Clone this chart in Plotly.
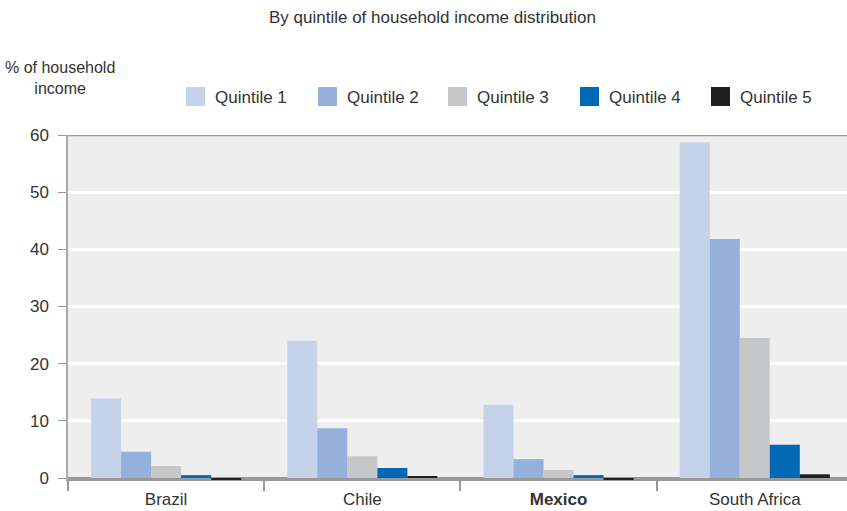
import plotly.graph_objects as go

# Share of household income by quintile (%), per country
countries = ["Brazil", "Chile", "Mexico", "South Africa"]
country_labels = ["Brazil", "Chile", "<b>Mexico</b>", "South Africa"]
quintiles = ["Quintile 1", "Quintile 2", "Quintile 3", "Quintile 4", "Quintile 5"]
q1 = [13.9, 24.0, 12.8, 58.7]
q2 = [4.6, 8.7, 3.3, 41.8]
q3 = [2.1, 3.8, 1.4, 24.5]
q4 = [0.5, 1.75, 0.5, 5.8]
q5 = [-0.4, 0.35, -0.4, 0.65]
colors = ["#c5d3ea", "#95b0db", "#c6c7c8", "#0068b4", "#231f20"]

FONT = "Liberation Sans, Arial, sans-serif"
TXT = "#333333"

# plot area in pixels (for placing legend/titles in paper coordinates)
PL, PW, PB, PH = 68, 779, 480, 345


def px_x(x):
    return (x - PL) / PW


def px_y(y):
    return (PB - y) / PH


fig = go.Figure()
for name, vals, col in zip(quintiles, [q1, q2, q3, q4, q5], colors):
    fig.add_trace(go.Bar(x=countries, y=vals, name=name, showlegend=False,
                         marker=dict(color=col, line=dict(width=0))))

annotations = [
    dict(text="By quintile of household income distribution", xref="paper", yref="paper",
         x=px_x(432), y=px_y(18), xanchor="center", yanchor="middle",
         showarrow=False, font=dict(size=17, color=TXT)),
    dict(text="% of household<br>income", xref="paper", yref="paper",
         x=px_x(3), y=px_y(78), xanchor="left", yanchor="middle",
         showarrow=False, align="center", font=dict(size=16, color=TXT)),
]
shapes = [dict(type="line", xref="paper", yref="y", x0=0, x1=1, y0=60, y1=60,
               line=dict(color="#999999", width=2.5))]

# legend row: swatch + label per quintile
legend_x = [186, 318, 448, 580, 711]
for lx, name, col in zip(legend_x, quintiles, colors):
    shapes.append(dict(type="rect", xref="paper", yref="paper",
                       x0=px_x(lx), x1=px_x(lx + 19), y0=px_y(106), y1=px_y(87),
                       fillcolor=col, line=dict(width=0)))
    annotations.append(dict(text=name, xref="paper", yref="paper",
                            x=px_x(lx + 27), y=px_y(97), xanchor="left", yanchor="middle",
                            showarrow=False, font=dict(size=17, color=TXT)))

fig.update_layout(
    width=847, height=511,
    barmode="group", bargap=0.235, bargroupgap=0,
    plot_bgcolor="#eeeeee", paper_bgcolor="white",
    margin=dict(l=PL, r=0, t=135, b=511 - PB),
    font=dict(family=FONT, size=16, color=TXT),
    showlegend=False,
    annotations=annotations,
    shapes=shapes,
)

fig.update_xaxes(
    type="category", range=[-0.5, 3.47],
    tickvals=countries, ticktext=country_labels,
    tickson="boundaries", ticks="outside", ticklen=10, tickcolor="#999999", tickwidth=1.5,
    showline=True, linecolor="#999999", linewidth=1,
    showgrid=False, tickfont=dict(size=17, color=TXT), ticklabelstandoff=4,
)
fig.update_yaxes(
    range=[-0.35, 60], tickvals=[0, 10, 20, 30, 40, 50, 60],
    showgrid=True, gridcolor="white", gridwidth=2.5,
    zeroline=True, zerolinecolor="#999999", zerolinewidth=3,
    showline=True, linecolor="#aaaaaa", linewidth=1.5,
    ticks="outside", ticklen=8, tickcolor="#999999",
    tickfont=dict(size=17, color=TXT), ticklabelstandoff=6,
)

fig.write_html("out.html")
